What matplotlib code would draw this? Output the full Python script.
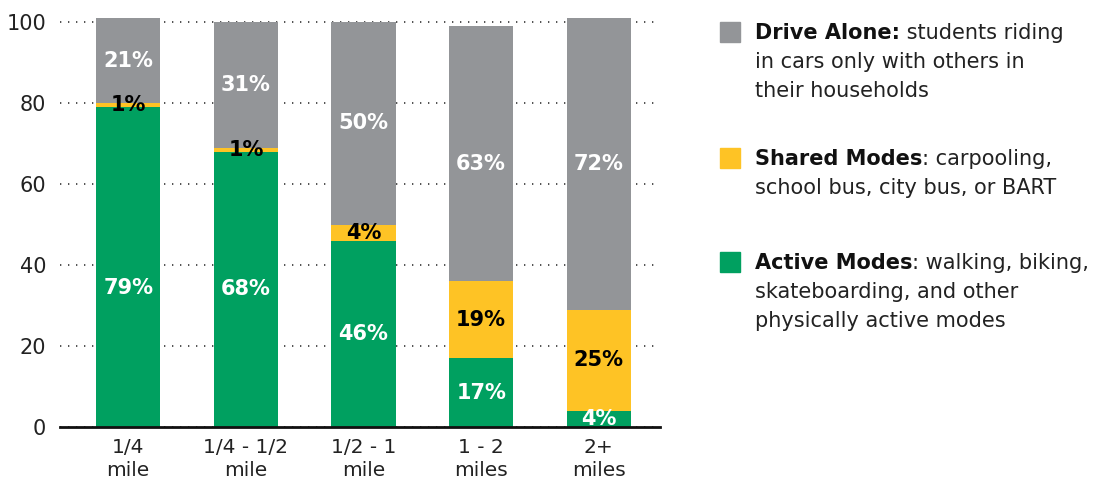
import matplotlib
matplotlib.use("Agg")
import numpy
from matplotlib import pyplot

# -----------------------------------------------------------------------------
# data
categories = ["1/4\nmile", "1/4 - 1/2\nmile", "1/2 - 1\nmile", "1 - 2\nmiles", "2+\nmiles"]
active = [79, 68, 46, 17, 4]
shared = [1, 1, 4, 19, 25]
drive = [21, 31, 50, 63, 72]

yticks = [0, 20, 40, 60, 80, 100]

c_green = "#00A060"
c_yellow = "#FEC325"
c_gray = "#939598"

pyplot.rcParams["font.family"] = ["DejaVu Sans"]

fig = pyplot.figure(figsize=(11.14, 4.86), dpi=100)
ax = fig.add_axes([60/1114, 59/486, 600/1114, (427-14)/486])

x = numpy.arange(len(categories))
w = 0.545
active = numpy.array(active)
shared = numpy.array(shared)
drive = numpy.array(drive)

ax.bar(x, active, w, color=c_green, zorder=2)
ax.bar(x, shared, w, bottom=active, color=c_yellow, zorder=2)
ax.bar(x, drive, w, bottom=active + shared, color=c_gray, zorder=2)

ax.set_xlim(-0.58, 4.52)
ax.set_ylim(0, 102)

# segment labels, roughly centred
ya = active / 2.0
ya[0] = 34.3
ys = active + shared / 2.0
yd = active + shared + drive / 2.0
yd[3] -= 2.5
for i in range(len(x)):
    ax.text(x[i], ya[i], "%d%%" % active[i], ha="center", va="center",
            color="white", fontsize=15, fontweight="bold", zorder=3)
    ax.text(x[i], ys[i], "%d%%" % shared[i], ha="center", va="center",
            color="black", fontsize=15, fontweight="bold", zorder=3)
    ax.text(x[i], yd[i], "%d%%" % drive[i], ha="center", va="center",
            color="white", fontsize=15, fontweight="bold", zorder=3)

# axes styling
for s in ["left", "right", "top"]:
    ax.spines[s].set_visible(False)
ax.spines["bottom"].set_linewidth(2.0)
ax.spines["bottom"].set_color("#111111")
ax.spines["bottom"].set_zorder(4)

ax.set_yticks(yticks)
ax.set_xticks(x)
ax.set_xticklabels(categories, fontsize=14.5, color="#222222", linespacing=1.25)
ax.tick_params(axis="y", length=0, pad=10, labelsize=15, labelcolor="#222222")
ax.tick_params(axis="x", length=0, pad=8)
ax.grid(axis="y", color="#333333", linestyle=(0, (0.8, 4.0)), linewidth=1.2, zorder=1)
ax.set_axisbelow(True)

# legend drawn by hand at the right
legend = [
    (c_gray, "Drive Alone:", " students riding", ["in cars only with others in", "their households"], 33),
    (c_yellow, "Shared Modes", ": carpooling,", ["school bus, city bus, or BART"], 159),
    (c_green, "Active Modes", ": walking, biking,", ["skateboarding, and other", "physically active modes"], 263),
]
fs = 15
for color, bold, rest, lines, ypx in legend:
    fig.patches.append(matplotlib.patches.Rectangle(
        (720/1114, 1 - (ypx + 9)/486), 20/1114, 20/486,
        transform=fig.transFigure, color=color))
    t = fig.text(755/1114, 1 - ypx/486, bold, fontsize=fs, fontweight="bold",
                 va="center", ha="left", color="#111111")
    ax.annotate(rest, xy=(1, 0), xycoords=t, va="bottom", ha="left",
                fontsize=fs, color="#222222", annotation_clip=False)
    for k, line in enumerate(lines):
        fig.text(755/1114, 1 - (ypx + 29*(k+1))/486, line, fontsize=fs,
                 va="center", ha="left", color="#222222")

pyplot.savefig("out.png", dpi=100)
